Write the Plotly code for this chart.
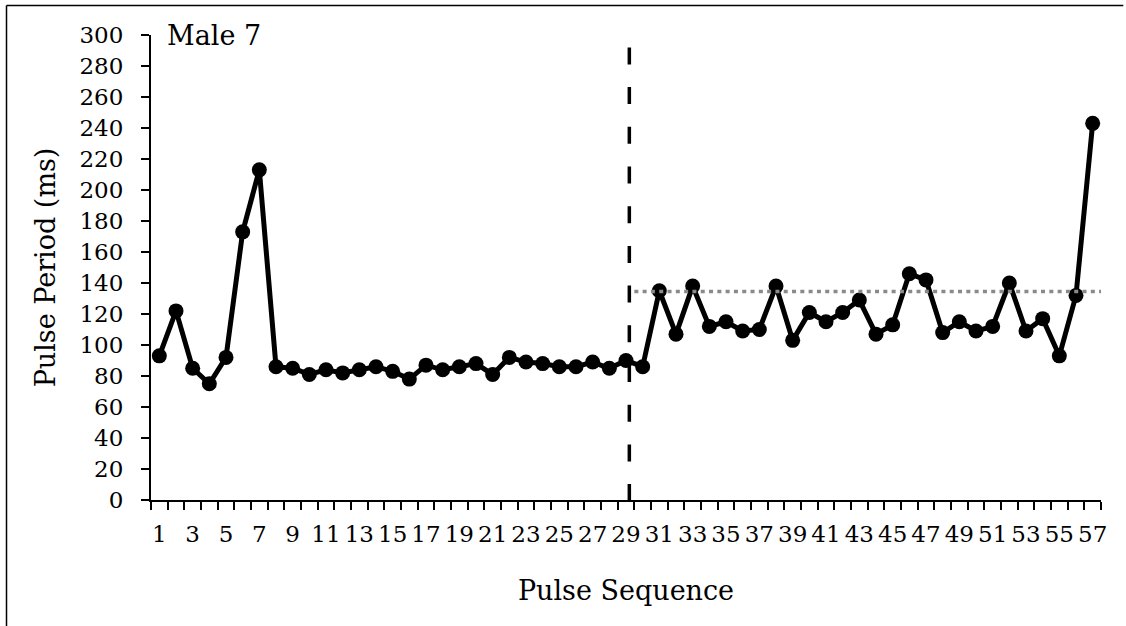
import plotly.graph_objects as go

# ---- data ----
pulse_index = list(range(1, 58))
pulse_period_ms = [93, 122, 85, 75, 92, 173, 213, 86, 85, 81,
                   84, 82, 84, 86, 83, 78, 87, 84, 86, 88,
                   81, 92, 89, 88, 86, 86, 89, 85, 90, 86,
                   135, 107, 138, 112, 115, 109, 110, 138, 103, 121,
                   115, 121, 129, 107, 113, 146, 142, 108, 115, 109,
                   112, 140, 109, 117, 93, 132, 243]
x_tick_labels = [str(i) for i in range(1, 58, 2)]
y_ticks = list(range(0, 301, 20))
break_position = 29.2        # dashed vertical separator
break_top = 292
mean_after_break = 134.5     # dotted reference level
mean_start, mean_end = 29.5, 57.5
chart_label = "Male 7"

FONT = "DejaVu Serif"

fig = go.Figure()
fig.add_trace(go.Scatter(
    x=pulse_index, y=pulse_period_ms, mode="lines+markers",
    line=dict(color="black", width=5),
    marker=dict(color="black", size=15),
    showlegend=False, hoverinfo="x+y"))

# dashed vertical break line
fig.add_shape(type="line", xref="x", yref="y",
              x0=break_position, x1=break_position, y0=break_top, y1=0,
              line=dict(color="black", width=3.5, dash="17px,22.7px"))
# dotted mean line
fig.add_shape(type="line", xref="x", yref="y",
              x0=mean_start, x1=mean_end, y0=mean_after_break, y1=mean_after_break,
              line=dict(color="#8a8a8a", width=3.5, dash="4px,4.3px"))

# outer border: only top and left edges fall inside the picture
fig.add_shape(type="line", xref="paper", yref="paper",
              x0=-0.1521, x1=1.0235, y0=1.0634, y1=1.0634,
              line=dict(color="black", width=1.5))
fig.add_shape(type="line", xref="paper", yref="paper",
              x0=-0.1521, x1=-0.1521, y0=1.0634, y1=-0.29,
              line=dict(color="black", width=1.5))

fig.add_annotation(text=chart_label, xref="paper", yref="paper",
                   x=0.0147, y=1.0, xanchor="left", yanchor="middle",
                   showarrow=False, font=dict(family=FONT, size=27, color="black"))

fig.update_layout(
    width=1126, height=626,
    margin=dict(l=151, r=25, t=35, b=126),
    paper_bgcolor="white", plot_bgcolor="white",
    font=dict(family=FONT, color="black"),
)
fig.update_xaxes(
    range=[0.5, 57.5], tickmode="array",
    tickvals=list(range(1, 58, 2)), ticktext=x_tick_labels,
    ticks="", showgrid=False, zeroline=False,
    showline=True, linecolor="black", linewidth=2,
    tickfont=dict(family=FONT, size=23, color="black"),
    ticklabelstandoff=12,
    minor=dict(tickmode="array", tickvals=[i + 0.5 for i in range(0, 58)],
               ticks="outside", ticklen=8, tickwidth=2, tickcolor="black", showgrid=False),
    title=dict(text="Pulse Sequence", font=dict(family=FONT, size=27, color="black"), standoff=36),
)
fig.update_yaxes(
    range=[0, 300], tickmode="array", tickvals=y_ticks,
    ticks="outside", ticklen=8, tickwidth=2, tickcolor="black",
    showgrid=False, zeroline=False,
    showline=True, linecolor="black", linewidth=2,
    tickfont=dict(family=FONT, size=23, color="black"),
    ticklabelstandoff=13,
    title=dict(text="Pulse Period (ms)", font=dict(family=FONT, size=27, color="black"), standoff=16),
)

fig.write_html("out.html")
